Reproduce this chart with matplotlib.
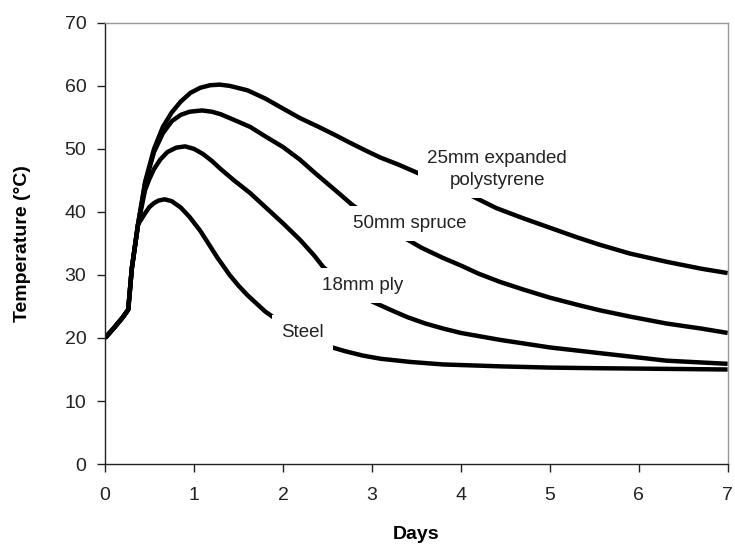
import matplotlib.pyplot as plt
import numpy as np

plt.rcParams['font.family'] = ['Liberation Sans', 'DejaVu Sans']

# values (days, degC)
rise_x = [0, 0.1, 0.2, 0.26, 0.3, 0.37]
rise_y = [20, 21.6, 23.3, 24.5, 31.0, 38.0]

steel_x = rise_x + [0.45, 0.5, 0.55, 0.6, 0.67, 0.75, 0.85, 0.95, 1.07, 1.17, 1.26, 1.4, 1.5, 1.6,
                    1.7, 1.8, 1.93, 2.1, 2.3, 2.53, 2.7, 2.9, 3.1, 3.43, 3.8, 4.44, 5.0, 5.56, 6.3, 7.0]
steel_y = rise_y + [39.8, 40.8, 41.4, 41.8, 42.0, 41.7, 40.7, 39.2, 37.0, 34.8, 32.8, 30.0, 28.3, 26.8,
                    25.5, 24.2, 22.9, 21.2, 19.8, 18.6, 17.9, 17.2, 16.7, 16.2, 15.8, 15.5, 15.3, 15.2, 15.1, 15.0]

ply_x = rise_x + [0.45, 0.5, 0.55, 0.62, 0.7, 0.8, 0.9, 1.0, 1.1, 1.2, 1.3, 1.45, 1.63, 1.8, 2.0, 2.19,
                  2.35, 2.45, 2.6, 2.8, 3.0, 3.22, 3.4, 3.6, 3.8, 4.0, 4.44, 5.0, 5.56, 6.0, 6.31, 7.0]
ply_y = rise_y + [43.5, 45.3, 46.8, 48.3, 49.5, 50.2, 50.4, 50.0, 49.2, 48.1, 46.8, 45.0, 43.0, 40.8, 38.2, 35.6,
                  33.1, 31.3, 29.4, 27.5, 25.8, 24.4, 23.3, 22.3, 21.5, 20.8, 19.7, 18.5, 17.6, 16.9, 16.4, 15.9]

spruce_x = rise_x + [0.45, 0.55, 0.65, 0.75, 0.85, 0.95, 1.09, 1.2, 1.3, 1.45, 1.63, 1.8, 2.0, 2.19, 2.35,
                     2.5, 2.65, 2.78, 3.0, 3.2, 3.4, 3.56, 3.8, 4.0, 4.2, 4.44, 4.7, 5.0, 5.3, 5.56, 5.9,
                     6.31, 6.7, 7.0]
spruce_y = rise_y + [44.5, 49.5, 52.5, 54.4, 55.4, 55.9, 56.1, 55.9, 55.5, 54.6, 53.5, 52.0, 50.3, 48.3, 46.3,
                     44.5, 42.7, 41.1, 39.0, 37.2, 35.6, 34.3, 32.7, 31.5, 30.2, 28.9, 27.7, 26.4, 25.3, 24.4, 23.4,
                     22.3, 21.5, 20.8]

eps_x = rise_x + [0.45, 0.55, 0.65, 0.75, 0.85, 0.96, 1.07, 1.18, 1.29, 1.4, 1.6, 1.8, 2.0, 2.19, 2.4, 2.6,
                  2.75, 2.95, 3.1, 3.3, 3.56, 3.8, 4.0, 4.2, 4.4, 4.7, 5.0, 5.3, 5.56, 5.9, 6.31, 6.7, 7.0]
eps_y = rise_y + [44.8, 50.0, 53.5, 55.8, 57.5, 58.9, 59.7, 60.1, 60.2, 60.0, 59.3, 58.0, 56.4, 54.9, 53.5, 52.1,
                  51.0, 49.6, 48.6, 47.5, 45.9, 44.6, 43.4, 42.0, 40.6, 39.0, 37.5, 36.0, 34.8, 33.4, 32.1, 31.0, 30.3]

labels = ['Steel', '18mm ply', '50mm spruce', '25mm expanded\npolystyrene']
label_x = [2.22, 2.9, 3.43, 4.41]
label_y = [20.9, 28.4, 38.2, 46.7]

fig = plt.figure(figsize=(7.35, 5.44), dpi=100)
ax = fig.add_axes([0.143, 0.147, 0.847, 0.811])

for xs, ys in [(steel_x, steel_y), (ply_x, ply_y), (spruce_x, spruce_y), (eps_x, eps_y)]:
    ax.plot(xs, ys, color='black', lw=3.2, solid_capstyle='butt', solid_joinstyle='round', zorder=2)

for txt, tx, ty in zip(labels, label_x, label_y):
    ax.text(tx, ty, txt, ha='center', va='center', fontsize=13.5, color='#222222',
            linespacing=1.4, zorder=3,
            bbox=dict(facecolor='white', edgecolor='none', pad=6.5))

ax.set_xlim(0, 7)
ax.set_ylim(0, 70)
ax.set_xticks(np.arange(0, 8, 1))
ax.set_yticks(np.arange(0, 80, 10))
ax.tick_params(axis='both', direction='out', length=5.5, width=1, labelsize=14, colors='#222222')
ax.tick_params(axis='x', pad=11)
ax.tick_params(axis='y', pad=8)

for s in ['left', 'bottom']:
    ax.spines[s].set_color('#222222')
    ax.spines[s].set_linewidth(1)
for s in ['top', 'right']:
    ax.spines[s].set_color('#999999')
    ax.spines[s].set_linewidth(1)

ax.set_xlabel('Days', fontsize=14, fontweight='bold', labelpad=16)
ax.set_ylabel('Temperature (°C)', fontsize=14, fontweight='bold', labelpad=24)

fig.savefig('out.png', dpi=100)
